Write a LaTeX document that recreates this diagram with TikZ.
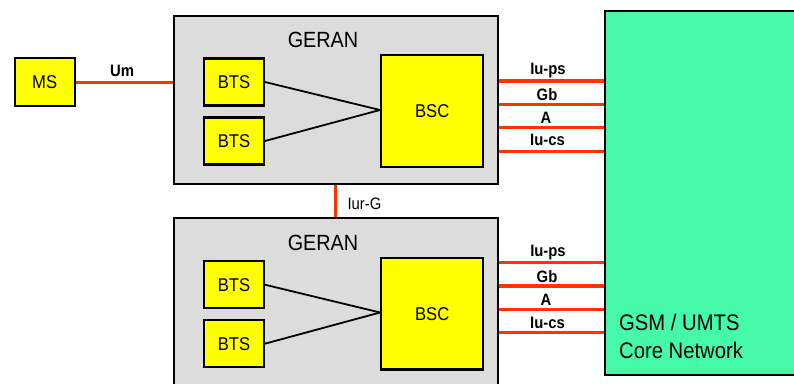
\documentclass[tikz,border=0pt]{standalone}
\usepackage{fontspec}
\setmainfont{Liberation Sans}[FakeStretch=0.9]
\definecolor{geranfill}{HTML}{DCDCDC}
\definecolor{boxyellow}{HTML}{FFFF00}
\definecolor{corefill}{HTML}{45F9A9}
\definecolor{ifred}{HTML}{FF3300}
\tikzset{
  ger/.style={draw=black, line width=2.4pt, fill=geranfill, anchor=north west, inner sep=0pt},
  ybox/.style={draw=black, line width=2.4pt, fill=boxyellow, anchor=north west, inner sep=0pt},
  boxtext/.style={font=\fontsize{18.5}{20}\selectfont, inner sep=0pt},
  corebox/.style={draw=black, line width=2.4pt, fill=corefill, anchor=north west, inner sep=0pt},
  iface/.style={draw=ifred, line width=3.2pt},
  link/.style={draw=black, line width=1.8pt},
  lbl/.style={anchor=base, inner sep=0pt, font=\fontsize{16.5}{18}\selectfont\bfseries},
  title/.style={anchor=base, inner sep=0pt, font=\fontsize{22}{24}\selectfont},
  coretext/.style={anchor=base west, inner sep=0pt, font=\fontsize{22.5}{24}\selectfont},
}
\begin{document}
\begin{tikzpicture}[x=1pt,y=-1pt]
\useasboundingbox (0,0) rectangle (794,383);
\clip (0,0) rectangle (794,383);
% core network
\node[corebox, minimum width=210pt, minimum height=364pt] (core) at (604,10) {};
\node[coretext] (coret1) at (619,330) {GSM / UMTS};
\node[coretext] (coret2) at (619,358) {Core Network};
% GERAN boxes
\node[ger, minimum width=324pt, minimum height=168pt] (ger1) at (173,15) {};
\node[ger, minimum width=324pt, minimum height=190pt] (ger2) at (173,217) {};
\node[title] (t1) at (323,47) {GERAN};
\node[title] (t2) at (323,250) {GERAN};
% MS
\node[ybox, minimum width=60pt, minimum height=48pt] (ms) at (13.5,57) {};
\node[boxtext] (mst) at (ms.center) {MS};
% upper GERAN
\node[ybox, minimum width=59.5pt, minimum height=47pt] (bts1) at (203,57.3) {};
\node[ybox, minimum width=59.5pt, minimum height=47pt] (bts2) at (203,116.3) {};
\node[ybox, minimum width=102pt, minimum height=111.5pt] (bsc1) at (380,54) {};
\node[boxtext] at (bts1.center) {BTS};
\node[boxtext] at (bts2.center) {BTS};
\node[boxtext] at (bsc1.center) {BSC};
\coordinate (m1) at (380,110);
\draw[link] (bts1.east) -- (m1);
\draw[link] (bts2.east) -- (m1);
% lower GERAN
\node[ybox, minimum width=59.5pt, minimum height=47pt] (bts3) at (203,260) {};
\node[ybox, minimum width=59.5pt, minimum height=47pt] (bts4) at (203,319) {};
\node[ybox, minimum width=102pt, minimum height=111.5pt] (bsc2) at (380,256.7) {};
\node[boxtext] at (bts3.center) {BTS};
\node[boxtext] at (bts4.center) {BTS};
\node[boxtext] at (bsc2.center) {BSC};
\coordinate (m2) at (380,312.5);
\draw[link] (bts3.east) -- (m2);
\draw[link] (bts4.east) -- (m2);
% Um
\draw[iface] (ms.east) -- (ms.east -| ger1.west);
\node[lbl] (um) at (122,76.5) {Um};
% Iur-G
\draw[iface] (ger1.south -| 335.7,0) -- (ger2.north -| 335.7,0);
\node[anchor=base, inner sep=0pt, font=\fontsize{16.5}{18}\selectfont] (iurg) at (364.5,209) {Iur-G};
% interfaces upper
\foreach \y in {81,104.5,127.5,151.3} \draw[iface] (ger1.east |- 0,\y) -- (core.west |- 0,\y);
\node[lbl] at (548,74) {Iu-ps};
\node[lbl] at (547,100) {Gb};
\node[lbl] at (546,123) {A};
\node[lbl] at (547.5,145.5) {Iu-cs};
% interfaces lower
\foreach \y in {262.7,286,309.3,332.7} \draw[iface] (ger2.east |- 0,\y) -- (core.west |- 0,\y);
\node[lbl] at (548,256) {Iu-ps};
\node[lbl] at (547,282) {Gb};
\node[lbl] at (546,305) {A};
\node[lbl] at (547.5,328) {Iu-cs};
\end{tikzpicture}
\end{document}
